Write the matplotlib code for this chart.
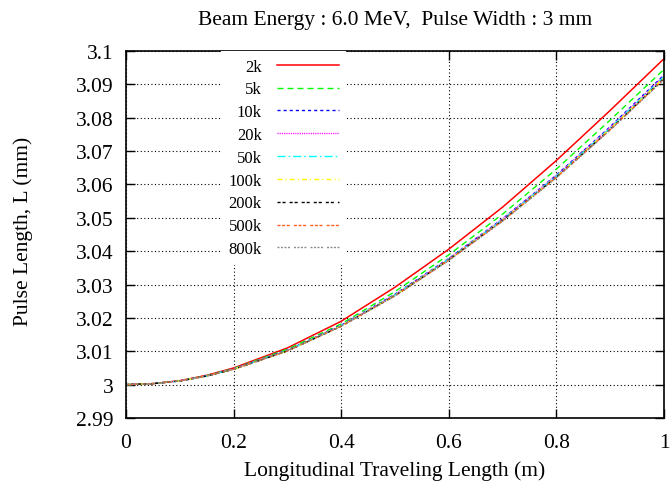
import matplotlib
matplotlib.use("Agg")
import matplotlib.pyplot as plt
from matplotlib.ticker import FixedLocator, FixedFormatter

plt.rcParams['font.family'] = ['Liberation Serif', 'DejaVu Serif']

# ---------------- data ----------------
x = [0.0, 0.05, 0.1, 0.15, 0.2, 0.3, 0.4, 0.5, 0.6, 0.7, 0.8, 0.9, 1.0]

labels = ["2k", "5k", "10k", "20k", "50k", "100k", "200k", "500k", "800k"]

L_2k   = [3.0, 3.0003, 3.0012, 3.0028, 3.0050, 3.0110, 3.0190, 3.0292, 3.0406, 3.0532, 3.0672, 3.0822, 3.0977]
L_5k   = [3.0, 3.0003, 3.0011, 3.0027, 3.0048, 3.0106, 3.0182, 3.0279, 3.0389, 3.0511, 3.0646, 3.0793, 3.0945]
L_10k  = [3.0, 3.0003, 3.0011, 3.0026, 3.0047, 3.0103, 3.0178, 3.0271, 3.0378, 3.0497, 3.0628, 3.0773, 3.0928]
L_20k  = [3.0, 3.0003, 3.0011, 3.0026, 3.0047, 3.0102, 3.0177, 3.0270, 3.0377, 3.0496, 3.0627, 3.0771, 3.0925]
L_50k  = [3.0, 3.0003, 3.0011, 3.0026, 3.0047, 3.0102, 3.0176, 3.0269, 3.0376, 3.0494, 3.0625, 3.0769, 3.0923]
L_100k = [3.0, 3.0003, 3.0011, 3.0026, 3.0046, 3.0101, 3.0176, 3.0268, 3.0375, 3.0493, 3.0623, 3.0767, 3.0920]
L_200k = [3.0, 3.0003, 3.0011, 3.0026, 3.0046, 3.0101, 3.0175, 3.0267, 3.0374, 3.0492, 3.0622, 3.0765, 3.0918]
L_500k = [3.0, 3.0003, 3.0011, 3.0026, 3.0046, 3.0101, 3.0175, 3.0266, 3.0373, 3.0491, 3.0621, 3.0764, 3.0916]
L_800k = [3.0, 3.0003, 3.0011, 3.0026, 3.0046, 3.0101, 3.0175, 3.0266, 3.0372, 3.0490, 3.0620, 3.0763, 3.0915]

series = [L_2k, L_5k, L_10k, L_20k, L_50k, L_100k, L_200k, L_500k, L_800k]

xticks = [0, 0.2, 0.4, 0.6, 0.8, 1.0]
xtick_labels = ["0", "0.2", "0.4", "0.6", "0.8", "1"]
yticks = [2.99, 3.0, 3.01, 3.02, 3.03, 3.04, 3.05, 3.06, 3.07, 3.08, 3.09, 3.1]
ytick_labels = ["2.99", "3", "3.01", "3.02", "3.03", "3.04", "3.05", "3.06",
                "3.07", "3.08", "3.09", "3.1"]

title = "Beam Energy : 6.0 MeV,  Pulse Width : 3 mm"
xlabel = "Longitudinal Traveling Length (m)"
ylabel = "Pulse Length, L (mm)"

# ---------------- styles ----------------
colors = ["#ff0000", "#00ff00", "#0000ff", "#ff00ff", "#00ffff",
          "#ffff00", "#000000", "#ff6020", "#888888"]
dash_styles = [
    "-",
    (0, (4.3, 2.9)),
    (0, (2.2, 2.2)),
    (0, (0.8, 0.8)),
    (0, (5.8, 2.2, 1.1, 2.2)),
    (0, (3.6, 2.2, 0.8, 2.2)),
    (0, (2.2, 1.4, 2.2, 2.9)),
    (0, (2.2, 1.1, 2.2, 1.1, 2.2, 3.0)),
    (0, (1.4, 1.1, 1.4, 1.1, 1.4, 1.1, 1.4, 3.0)),
]

W, H = 672, 489
fig = plt.figure(figsize=(W / 100, H / 100), dpi=100)
ax = fig.add_axes([126 / W, 1 - 419 / H, 538 / W, 367 / H])

for ys, lab, c, ls in zip(series, labels, colors, dash_styles):
    ax.plot(x, ys, color=c, linestyle=ls, linewidth=1.1 if lab == "2k" else 1.0,
            label=lab)

ax.set_xlim(0, 1)
ax.set_ylim(2.99, 3.1)
ax.xaxis.set_major_locator(FixedLocator(xticks))
ax.xaxis.set_major_formatter(FixedFormatter(xtick_labels))
ax.yaxis.set_major_locator(FixedLocator(yticks))
ax.yaxis.set_major_formatter(FixedFormatter(ytick_labels))

ax.tick_params(direction="in", length=6.5, width=1.0, top=True, right=True,
               labelsize=15.5)
ax.tick_params(axis="y", pad=9)
ax.tick_params(axis="x", pad=11)
for sp in ax.spines.values():
    sp.set_linewidth(1.2)

ax.grid(True, color="black", linestyle=(0, (1, 2.2)), linewidth=0.8)
ax.set_axisbelow(True)

ax.set_xlabel(xlabel, fontsize=15.5)
ax.xaxis.set_label_coords(0.5, -0.115)
ax.set_ylabel(ylabel, fontsize=15.5)
ax.yaxis.label.set_verticalalignment("center")
ax.yaxis.set_label_coords((23 - 126) / 538, 0.51)

fig.text(395 / W, 1 - 20 / H, title, ha="center", va="center", fontsize=15.5)

leg = ax.legend(loc="upper right", bbox_to_anchor=((346 - 126) / 538, 1.0),
                markerfirst=False, fontsize=12, handlelength=3.7,
                handletextpad=0.9, labelspacing=0.41, borderpad=0.45,
                borderaxespad=0.0, frameon=True, fancybox=False,
                framealpha=1.0)
leg.get_frame().set_facecolor("white")
leg.get_frame().set_edgecolor("none")

fig.savefig("out.png", dpi=100)
